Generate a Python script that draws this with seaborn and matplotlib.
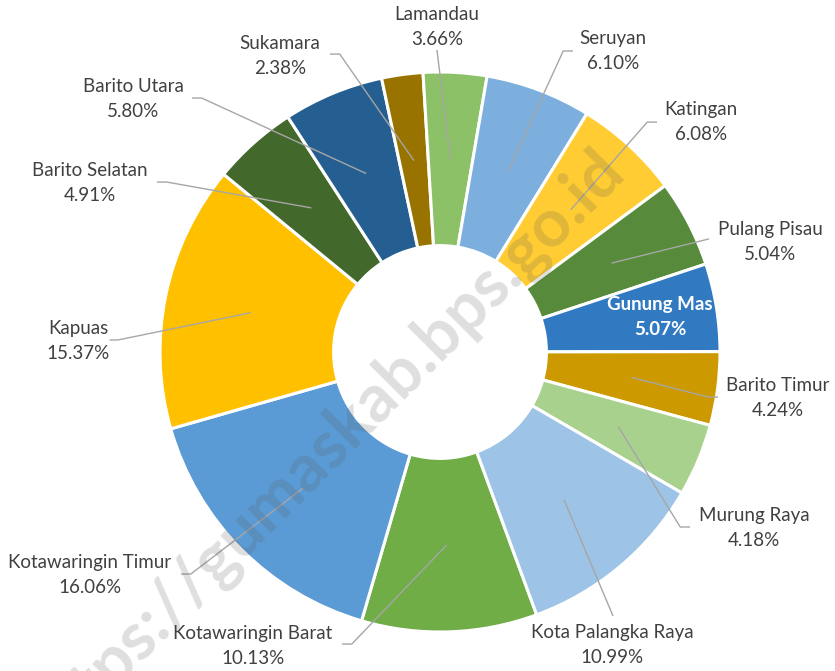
import matplotlib
matplotlib.use("Agg")
import matplotlib.pyplot as plt
import seaborn as sns
import numpy as np

# share of each regency (percent), BPS order
regions = ['Kotawaringin Barat', 'Kotawaringin Timur', 'Kapuas', 'Barito Selatan',
           'Barito Utara', 'Sukamara', 'Lamandau', 'Seruyan', 'Katingan',
           'Pulang Pisau', 'Gunung Mas', 'Barito Timur', 'Murung Raya',
           'Kota Palangka Raya']
shares = [10.13, 16.06, 15.37, 4.91, 5.80, 2.38, 3.66, 6.10, 6.08, 5.04, 5.07,
          4.24, 4.18, 10.99]
colors = ['#70AD47', '#5B9BD5', '#FFC000', '#43682B', '#255E91', '#997300',
          '#8CC168', '#7CAFDD', '#FFCD33', '#578A3A', '#3179C1', '#CC9900',
          '#A9D18E', '#9DC3E6']

# label layout, in pie-radius units relative to centre: text centre, leader start
label_pos = [(-0.668, -1.05), (-1.25, -0.796), (-1.293, 0.039), (-1.25, 0.604),
             (-1.096, 0.904), (-0.571, 1.057), (-0.011, 1.161), (0.618, 1.075),
             (0.932, 0.821), (1.179, 0.393), (0.786, 0.125), (1.207, -0.164),
             (1.121, -0.629), (0.614, -1.046)]
line_start = [(-0.35, -1.043), (-0.925, -0.793), (-1.18, 0.043), (-1.011, 0.607),
              (-0.886, 0.907), (-0.393, 1.064), (-0.011, 1.079), (0.475, 1.075),
              (0.775, 0.821), (0.961, 0.404), None, (0.993, -0.161),
              (0.893, -0.625), (0.618, -0.943)]
elbow = [0.035, 0.035, 0.03, 0.035, 0.035, 0.035, 0, -0.035, -0.035, 0, 0,
         -0.035, -0.035, 0]

R_PX = 280
FS = 13.5
sns.set_theme(style="white")
plt.rcParams['font.family'] = ['Lato', 'DejaVu Sans']

fig = plt.figure(figsize=(8.35, 6.71), dpi=100)
ax = fig.add_axes([0, 0, 1, 1])
palette = sns.color_palette(colors)

wedges, _ = ax.pie(shares, colors=palette, startangle=-69.8, counterclock=False,
                   radius=1.0, wedgeprops=dict(width=0.62, edgecolor='white',
                                               linewidth=2.2))

dy = 12.5 / R_PX
for i, w in enumerate(wedges):
    mid = np.deg2rad((w.theta1 + w.theta2) / 2)
    px, py = 0.69 * np.cos(mid), 0.69 * np.sin(mid)
    tx, ty = label_pos[i]
    name = regions[i]
    pct = f"{shares[i]:.2f}%"
    if line_start[i] is None:
        # label drawn inside the slice
        ax.text(tx, ty + dy, name, ha='center', va='center', fontsize=FS,
                color='white', fontweight='bold', zorder=5)
        ax.text(tx, ty - dy, pct, ha='center', va='center', fontsize=FS,
                color='white', fontweight='bold', zorder=5)
        continue
    sx, sy = line_start[i]
    ax.plot([sx, sx + elbow[i], px], [sy, sy, py], color='#A6A6A6', lw=1.0,
            zorder=4, solid_capstyle='butt')
    ax.text(tx, ty + dy, name, ha='center', va='center', fontsize=FS,
            color='#404040', zorder=5)
    ax.text(tx, ty - dy, pct, ha='center', va='center', fontsize=FS,
            color='#404040', zorder=5)

# watermark
ax.text((614 - 440) / R_PX, (352 - 160) / R_PX, 'https://gumaskab.bps.go.id',
        rotation=45, rotation_mode='anchor', ha='right', va='center',
        fontsize=48, fontweight='bold', color='#555555', alpha=0.19, zorder=6)

ax.set_xlim(-440 / R_PX, (835 - 440) / R_PX)
ax.set_ylim(-(671 - 352) / R_PX, 352 / R_PX)
ax.set_aspect('auto')
ax.axis('off')

fig.savefig('out.png', dpi=100)
